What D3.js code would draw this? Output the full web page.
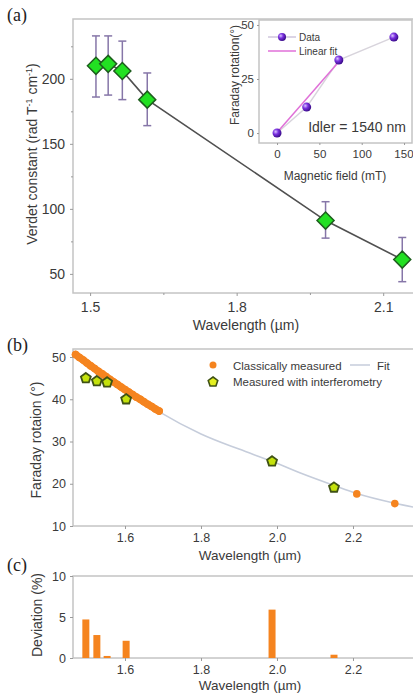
<!DOCTYPE html>
<html>
<head>
<meta charset="utf-8">
<script src="https://cdn.jsdelivr.net/npm/d3@7"></script>
<style>
  body { margin: 0; background: #fff; }
  svg { display: block; font-family: "Liberation Sans", Arial, sans-serif; }
  .tick text { fill: #3a3a3a; }
  .tick line { stroke: #9a9a9a; }
</style>
</head>
<body>
<svg id="chart" width="413" height="699"></svg>
<script>
// ---- panel (a): Verdet constant vs wavelength
const verdetWl = [1.512, 1.537, 1.566, 1.617, 1.982, 2.139];
const verdetVal = [210, 211.5, 206, 184, 91, 61];
const verdetErrLo = [186, 187.5, 184, 164, 77.5, 44];
const verdetErrHi = [233, 233, 229, 204.5, 105.5, 78];
const verdetXTicks = [1.5, 1.8, 2.1];
const verdetYTicks = [50, 100, 150, 200];

// ---- inset: Faraday rotation vs magnetic field at idler 1540 nm
const fieldMT = [0, 35, 73, 138];
const insetRot = [0, 12, 33.8, 44.4];
const linFitField = [0, 73];
const linFitRot = [0.3, 33];
const insetXTicks = [0, 50, 100, 150];
const insetYTicks = [0, 25, 50];

// ---- panel (b): Faraday rotation vs wavelength
const classicalWl = [1.47, 1.48, 1.49, 1.50, 1.51, 1.52, 1.53, 1.54, 1.55, 1.56, 1.57, 1.58,
  1.59, 1.60, 1.61, 1.62, 1.63, 1.64, 1.65, 1.66, 1.67, 1.68, 1.69, 2.21, 2.31];
const classicalRot = [50.6, 49.9, 49.3, 48.6, 47.9, 47.3, 46.6, 46.0, 45.4, 44.7, 44.1, 43.5,
  42.9, 42.3, 41.7, 41.1, 40.5, 40.0, 39.4, 38.8, 38.3, 37.7, 37.2, 17.6, 15.3];
const interfWl = [1.497, 1.526, 1.553, 1.603, 1.987, 2.150];
const interfRot = [45, 44.3, 44, 40, 25.3, 19.1];
const fitWl = [1.463, 1.55, 1.687, 1.8, 1.9, 1.99, 2.06, 2.15, 2.21, 2.31, 2.358];
const fitRot = [51.0, 45.6, 37.2, 31.8, 28.2, 25.2, 22.6, 19.6, 17.7, 15.4, 14.5];
const wlTicks = [1.6, 1.8, 2.0, 2.2];
const rotTicks = [10, 20, 30, 40, 50];

// ---- panel (c): deviation between the two methods
const deviationWl = [1.497, 1.526, 1.553, 1.603, 1.987, 2.150];
const deviationPct = [4.7, 2.8, 0.25, 2.1, 5.9, 0.4];
const deviationTicks = [0, 5, 10];

const svg = d3.select("#chart");
const textColor = "#3a3a3a";
const frameColor = "#c4c4c4";
const orange = "#f5841f";

// draws plot frame
function frame(box) {
  svg.append("rect")
    .attr("x", box.left).attr("y", box.top)
    .attr("width", box.right - box.left).attr("height", box.bottom - box.top)
    .attr("fill", "none").attr("stroke", frameColor).attr("stroke-width", 1.5);
}

// axis group helper, removes domain line since frame is drawn separately
function axis(gen, transform, fontSize) {
  const g = svg.append("g").attr("transform", transform).call(gen);
  g.select(".domain").remove();
  g.selectAll("text").style("font-size", fontSize + "px");
  return g;
}

function label(x, y, txt, size, opts = {}) {
  const t = svg.append("text")
    .attr("fill", textColor)
    .style("font-size", size + "px")
    .attr("text-anchor", opts.anchor || "middle");
  if (opts.rotate) t.attr("transform", `translate(${x},${y}) rotate(-90)`);
  else t.attr("x", x).attr("y", y);
  t.text(txt);
  return t;
}

function panelTag(y, txt) {
  svg.append("text")
    .attr("x", 7).attr("y", y)
    .style("font-family", "'Liberation Serif', 'DejaVu Serif', serif")
    .style("font-size", "18px")
    .attr("fill", "#222")
    .text(txt);
}

function pentagon(r) {
  const pts = d3.range(5).map((i) => {
    const a = -Math.PI / 2 + (i * 2 * Math.PI) / 5;
    return [r * Math.cos(a), r * Math.sin(a)];
  });
  return "M" + pts.map((p) => p.join(",")).join("L") + "Z";
}

// =================== panel (a) ===================
const boxA = { left: 73, right: 414, top: 19, bottom: 293 };
const xA = d3.scaleLinear().domain([1.465, 2.161]).range([boxA.left, 413]);
const yA = d3.scaleLinear().domain([35.3, 246]).range([boxA.bottom, boxA.top]);

frame(boxA);
axis(d3.axisBottom(xA).tickValues(verdetXTicks).tickFormat(d3.format(".1f")).tickSize(3).tickPadding(6),
  `translate(0,${boxA.bottom})`, 14);
axis(d3.axisBottom(xA).tickValues([1.65, 1.95]).tickFormat("").tickSize(2), `translate(0,${boxA.bottom})`, 14);
axis(d3.axisLeft(yA).tickValues(verdetYTicks).tickSize(3).tickPadding(5), `translate(${boxA.left},0)`, 14);
axis(d3.axisLeft(yA).tickValues([75, 125, 175, 225]).tickFormat("").tickSize(2), `translate(${boxA.left},0)`, 14);

const verdet = verdetWl.map((w, i) => ({ w, v: verdetVal[i], lo: verdetErrLo[i], hi: verdetErrHi[i] }));

svg.append("path")
  .datum(verdet)
  .attr("fill", "none")
  .attr("stroke", "#505050")
  .attr("stroke-width", 1.6)
  .attr("d", d3.line().x((d) => xA(d.w)).y((d) => yA(d.v)));

const errG = svg.append("g").attr("stroke", "#8676a8").attr("stroke-width", 1.5);
verdet.forEach((d) => {
  const x = xA(d.w);
  errG.append("line").attr("x1", x).attr("x2", x).attr("y1", yA(d.lo)).attr("y2", yA(d.hi));
  errG.append("line").attr("x1", x - 4).attr("x2", x + 4).attr("y1", yA(d.lo)).attr("y2", yA(d.lo));
  errG.append("line").attr("x1", x - 4).attr("x2", x + 4).attr("y1", yA(d.hi)).attr("y2", yA(d.hi));
});

svg.selectAll(".diamond")
  .data(verdet)
  .join("path")
  .attr("class", "diamond")
  .attr("transform", (d) => `translate(${xA(d.w)},${yA(d.v)})`)
  .attr("d", "M0,-8.5L8.5,0L0,8.5L-8.5,0Z")
  .attr("fill", "#22e022")
  .attr("stroke", "#1d5e1d")
  .attr("stroke-width", 1.5);

label(246, 330, "Wavelength (µm)", 14);
const yTitleA = label(37, 154, "", 14, { rotate: true });
yTitleA.append("tspan").text("Verdet constant (rad T");
yTitleA.append("tspan").attr("dy", -5).style("font-size", "9px").text("-1");
yTitleA.append("tspan").attr("dy", 5).text(" cm");
yTitleA.append("tspan").attr("dy", -5).style("font-size", "9px").text("-1");
yTitleA.append("tspan").attr("dy", 5).text(")");
panelTag(21, "(a)");

// ---- inset
const boxI = { left: 259, right: 412, top: 20, bottom: 143 };
const xI = d3.scaleLinear().domain([-21.3, 159.4]).range([boxI.left, boxI.right]);
const yI = d3.scaleLinear().domain([-4.6, 52.3]).range([boxI.bottom, boxI.top]);

svg.append("rect")
  .attr("x", boxI.left).attr("y", boxI.top)
  .attr("width", boxI.right - boxI.left).attr("height", boxI.bottom - boxI.top)
  .attr("fill", "#fff").attr("stroke", frameColor).attr("stroke-width", 1.5);
const insetX = axis(d3.axisBottom(xI).tickValues(insetXTicks).tickSize(2).tickPadding(5), `translate(0,${boxI.bottom})`, 11.5);
// last label sits at the figure edge, keep it inside
insetX.selectAll("text").filter((d) => d === 150).attr("text-anchor", "end").attr("dx", 9);
axis(d3.axisLeft(yI).tickValues(insetYTicks).tickSize(2).tickPadding(3), `translate(${boxI.left},0)`, 11.5);

const defs = svg.append("defs");
const grad = defs.append("radialGradient").attr("id", "ball").attr("cx", "35%").attr("cy", "35%").attr("r", "65%");
grad.append("stop").attr("offset", "0%").attr("stop-color", "#d9c4ff");
grad.append("stop").attr("offset", "45%").attr("stop-color", "#7a30e0");
grad.append("stop").attr("offset", "100%").attr("stop-color", "#3c0d8c");

const insetPts = fieldMT.map((f, i) => [f, insetRot[i]]);
svg.append("path")
  .datum(insetPts)
  .attr("fill", "none").attr("stroke", "#d8d4dc").attr("stroke-width", 1.5)
  .attr("d", d3.line().x((d) => xI(d[0])).y((d) => yI(d[1])));
svg.append("path")
  .datum(linFitField.map((f, i) => [f, linFitRot[i]]))
  .attr("fill", "none").attr("stroke", "#e070d8").attr("stroke-width", 1.5)
  .attr("d", d3.line().x((d) => xI(d[0])).y((d) => yI(d[1])));
svg.selectAll(".ball")
  .data(insetPts)
  .join("circle")
  .attr("class", "ball")
  .attr("cx", (d) => xI(d[0])).attr("cy", (d) => yI(d[1]))
  .attr("r", 4.5)
  .attr("fill", "url(#ball)");

// inset legend
svg.append("line").attr("x1", 268).attr("x2", 296).attr("y1", 37).attr("y2", 37)
  .attr("stroke", "#cfc6dc").attr("stroke-width", 1.5);
svg.append("circle").attr("cx", 282).attr("cy", 37).attr("r", 4).attr("fill", "url(#ball)");
label(299, 40.5, "Data", 10, { anchor: "start" });
svg.append("line").attr("x1", 268).attr("x2", 296).attr("y1", 51).attr("y2", 51)
  .attr("stroke", "#e070d8").attr("stroke-width", 1.5);
label(299, 54.5, "Linear fit", 10, { anchor: "start" });
label(357, 132, "Idler = 1540 nm", 14);
label(335, 180, "Magnetic field (mT)", 12);
label(239, 75, "Faraday rotation(°)", 12, { rotate: true });

// =================== panel (b) ===================
const boxB = { left: 73, right: 414, top: 349, bottom: 526 };
const xB = d3.scaleLinear().domain([1.4632, 2.3579]).range([boxB.left, 413]);
const yB = d3.scaleLinear().domain([10, 51.9]).range([boxB.bottom, boxB.top]);

frame(boxB);
axis(d3.axisBottom(xB).tickValues(wlTicks).tickFormat(d3.format(".1f")).tickSize(3).tickPadding(4),
  `translate(0,${boxB.bottom})`, 12.5);
axis(d3.axisLeft(yB).tickValues(rotTicks).tickSize(3).tickPadding(4), `translate(${boxB.left},0)`, 12.5);

svg.append("path")
  .datum(fitWl.map((w, i) => [w, fitRot[i]]))
  .attr("fill", "none").attr("stroke", "#c6cddb").attr("stroke-width", 1.6)
  .attr("d", d3.line().curve(d3.curveMonotoneX).x((d) => xB(d[0])).y((d) => yB(d[1])));

const classical = classicalWl.map((w, i) => [w, classicalRot[i]]);

// dense run of classical points shows as one thick band
svg.append("path")
  .datum(classical.filter((d) => d[0] < 2))
  .attr("fill", "none").attr("stroke", orange).attr("stroke-width", 7.5)
  .attr("stroke-linecap", "round")
  .attr("d", d3.line().x((d) => xB(d[0])).y((d) => yB(d[1])));

svg.selectAll(".classic")
  .data(classical)
  .join("circle")
  .attr("class", "classic")
  .attr("cx", (d) => xB(d[0])).attr("cy", (d) => yB(d[1]))
  .attr("r", 3.8)
  .attr("fill", orange);

svg.selectAll(".interf")
  .data(interfWl.map((w, i) => [w, interfRot[i]]))
  .join("path")
  .attr("class", "interf")
  .attr("transform", (d) => `translate(${xB(d[0])},${yB(d[1])})`)
  .attr("d", pentagon(5.2))
  .attr("fill", "#c4e20c")
  .attr("stroke", "#3f5214")
  .attr("stroke-width", 1.8);

// legend (b)
svg.append("circle").attr("cx", 213).attr("cy", 365).attr("r", 3.5).attr("fill", orange);
label(233, 369.5, "Classically measured", 11.5, { anchor: "start" });
svg.append("line").attr("x1", 350).attr("x2", 370).attr("y1", 365).attr("y2", 365)
  .attr("stroke", "#c6cddb").attr("stroke-width", 1.5);
label(377, 369.5, "Fit", 11.5, { anchor: "start" });
svg.append("path").attr("transform", "translate(213,382)").attr("d", pentagon(5))
  .attr("fill", "#e4f020").attr("stroke", "#3f5214").attr("stroke-width", 1.6);
label(233, 386, "Measured with interferometry", 11.5, { anchor: "start" });

label(250, 560, "Wavelength (µm)", 13.5);
label(41, 440, "Faraday rotaion (°)", 14, { rotate: true });
panelTag(351, "(b)");

// =================== panel (c) ===================
const boxC = { left: 73, right: 414, top: 576, bottom: 658 };
const xC = d3.scaleLinear().domain([1.4632, 2.3579]).range([boxC.left, 413]);
const yC = d3.scaleLinear().domain([0, 10]).range([boxC.bottom, boxC.top]);

frame(boxC);
axis(d3.axisBottom(xC).tickValues(wlTicks).tickFormat(d3.format(".1f")).tickSize(3).tickPadding(4),
  `translate(0,${boxC.bottom})`, 12.5);
axis(d3.axisLeft(yC).tickValues(deviationTicks).tickSize(3).tickPadding(4), `translate(${boxC.left},0)`, 12.5);

svg.selectAll(".devbar")
  .data(deviationWl.map((w, i) => [w, deviationPct[i]]))
  .join("rect")
  .attr("class", "devbar")
  .attr("x", (d) => xC(d[0]) - 3.5)
  .attr("width", 7)
  .attr("y", (d) => yC(d[1]))
  .attr("height", (d) => yC(0) - yC(d[1]))
  .attr("fill", orange);

label(250, 690, "Wavelength (µm)", 13.5);
label(42, 615, "Deviation (%)", 14, { rotate: true });
panelTag(571, "(c)");
</script>
</body>
</html>
